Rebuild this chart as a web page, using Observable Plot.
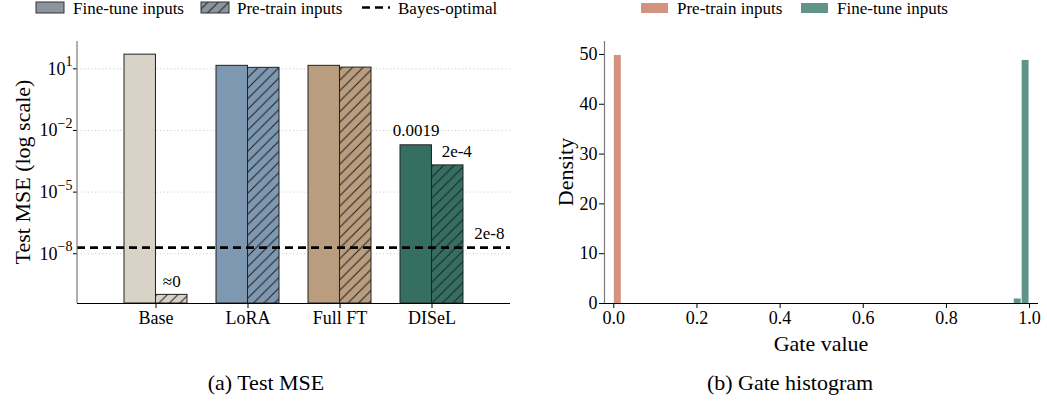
<!DOCTYPE html>
<html>
<head>
<meta charset="utf-8">
<script src="https://cdn.jsdelivr.net/npm/d3@7"></script>
<script src="https://cdn.jsdelivr.net/npm/@observablehq/plot@0.6"></script>
<style>
  body { margin: 0; background: #fff; }
  #fig { position: relative; width: 1047px; height: 404px; overflow: hidden;
         font-family: "Liberation Serif", "Times New Roman", serif; color: #000; background: #fff; }
  #fig svg text, #fig svg tspan { font-family: "Liberation Serif", "Times New Roman", serif; }
  .panel { position: absolute; top: 0; }
  .cap { position: absolute; top: 372px; font-size: 22px; line-height: 22px;
         transform: translateX(-50%); white-space: nowrap; }
  #legend { position: absolute; left: 0; top: 0; }
</style>
</head>
<body>
<div id="fig">
  <svg id="legend" width="1047" height="24"></svg>
  <div id="left" class="panel" style="left:0"></div>
  <div id="right" class="panel" style="left:520px"></div>
  <div class="cap" style="left:266px">(a) Test MSE</div>
  <div class="cap" style="left:790px">(b) Gate histogram</div>
</div>
<script>
// ---- Panel (a): test MSE per method, log scale ----
const methods = ["Base", "LoRA", "Full FT", "DISeL"];
const fineTuneMSE = [49, 14, 14, 0.0019];
const preTrainMSE = [1e-10, 11.2, 11.5, 2e-4];
const fineTuneLabels = [null, null, null, "0.0019"];
const preTrainLabels = ["≈0", null, null, "2e-4"];
const methodColors = ["#d9d2c6", "#7f98b1", "#b99d7e", "#356f64"];
const bayesMSE = 2e-8;
const bayesLabel = "2e-8";
const mseTicks = [1e1, 1e-2, 1e-5, 1e-8];
const mseDomain = [3.8e-11, 214];

// ---- Panel (b): gate value histogram (density) ----
const preTrainEdges = [0.0, 0.0192];
const preTrainDensity = [49.8];
const fineTuneEdges = [0.962, 0.981, 1.0];
const fineTuneDensity = [0.9, 48.8];
const gateTicks = [0, 0.2, 0.4, 0.6, 0.8, 1.0];
const densityTicks = [0, 10, 20, 30, 40, 50];
const gateDomain = [-0.0224, 1.0215];
const densityDomain = [0, 52.6];

const preColor = "#d4937e";
const ftColor = "#629389";
const legendGray = "#8c959d";
const hatchInk = "#1e1e1e";
const spineGray = "#7a7a7a";
const serif = "Liberation Serif, Times New Roman, serif";

const baseStyle = {fontFamily: serif, fontSize: "18px", background: "transparent", color: "#000", overflow: "visible"};

// hatch pattern "//" on top of a base colour
function addHatch(defs, id, color) {
  const s = 10.5;
  const p = defs.append("pattern").attr("id", id).attr("patternUnits", "userSpaceOnUse")
    .attr("width", s).attr("height", s);
  p.append("rect").attr("width", s).attr("height", s).attr("fill", color);
  p.append("path")
    .attr("d", `M0,${s} L${s},0 M${-s / 4},${s / 4} L${s / 4},${-s / 4} M${s * 3 / 4},${s * 5 / 4} L${s * 5 / 4},${s * 3 / 4}`)
    .attr("stroke", hatchInk).attr("stroke-width", 1).attr("fill", "none");
}

// ---------- left chart ----------
const L = {width: 525, height: 360, marginTop: 41, marginBottom: 57, marginLeft: 77, marginRight: 15};
const xBand = {domain: methods, paddingInner: 0.32, paddingOuter: 0.495};
let bw;
try {
  bw = Plot.scale({x: {type: "band", ...xBand, range: [L.marginLeft, L.width - L.marginRight]}}).bandwidth;
} catch (e) { bw = undefined; }
if (!bw) {
  const step = (L.width - L.marginRight - L.marginLeft) / (methods.length - xBand.paddingInner + 2 * xBand.paddingOuter);
  bw = step * (1 - xBand.paddingInner);
}
const half = bw / 2;

const rows = methods.map((m, i) => ({
  method: m, ft: fineTuneMSE[i], pt: preTrainMSE[i],
  color: methodColors[i], hatch: `url(#hatch-${i})`,
  ftLabel: fineTuneLabels[i], ptLabel: preTrainLabels[i]
}));

const left = Plot.plot({
  ...L,
  style: baseStyle,
  x: {...xBand, label: null, tickSize: 5, tickPadding: 3},
  y: {type: "log", domain: mseDomain, ticks: mseTicks, label: null, tickSize: 4, tickPadding: 1,
      tickFormat: d => "10^" + Math.round(Math.log10(d))},
  color: {type: "identity"},
  marks: [
    Plot.ruleY(mseTicks, {stroke: "#c4c4c4", strokeWidth: 0.8, strokeDasharray: "1.2,2.4"}),
    Plot.barY(rows, {x: "method", y1: mseDomain[0], y2: "ft", fill: "color", insetRight: half, stroke: "#222", strokeWidth: 1}),
    Plot.barY(rows, {x: "method", y1: mseDomain[0], y2: "pt", fill: "hatch", insetLeft: half, stroke: "#222", strokeWidth: 1}),
    Plot.ruleY([bayesMSE], {stroke: "#000", strokeWidth: 2.6, strokeDasharray: "8,5"}),
    Plot.ruleY([mseDomain[0]], {stroke: "#000", strokeWidth: 1}),
    Plot.text(rows.filter(d => d.ftLabel), {x: "method", y: "ft", text: "ftLabel", dx: -half / 2, dy: -9,
      lineAnchor: "bottom", fontSize: 17, fontFamily: serif}),
    Plot.text(rows.filter(d => d.ptLabel && d.method === "Base"), {x: "method", y: "pt", text: "ptLabel", dx: half / 2, dy: -8,
      lineAnchor: "bottom", fontSize: 17, fontFamily: serif}),
    Plot.text(rows.filter(d => d.ptLabel && d.method !== "Base"), {x: "method", y: "pt", text: "ptLabel", dx: half / 2 + 9, dy: -8,
      lineAnchor: "bottom", fontSize: 17, fontFamily: serif}),
    Plot.text([{v: bayesMSE, label: bayesLabel}], {y: "v", text: "label", frameAnchor: "right", textAnchor: "end",
      dx: -6, dy: -9, lineAnchor: "bottom", fontSize: 17, fontFamily: serif})
  ]
});

{
  const svg = d3.select(left);
  const defs = svg.insert("defs", ":first-child");
  methodColors.forEach((c, i) => addHatch(defs, `hatch-${i}`, c));
  // superscript exponents on the log ticks
  svg.selectAll("text").each(function () {
    const m = /^10\^(-?\d+)$/.exec(this.textContent);
    if (m) {
      const t = d3.select(this);
      t.text("10");
      t.append("tspan").attr("dy", "-0.6em").attr("font-size", "14px").text(m[1].replace("-", "\u2212"));
    }
  });
  // left spine
  svg.append("line").attr("x1", L.marginLeft).attr("x2", L.marginLeft)
    .attr("y1", L.marginTop).attr("y2", L.height - L.marginBottom)
    .attr("stroke", spineGray).attr("stroke-width", 1.2);
  svg.append("text").attr("transform", `translate(22,${(L.marginTop + L.height - L.marginBottom) / 2}) rotate(-90)`)
    .attr("text-anchor", "middle").attr("dominant-baseline", "central")
    .attr("font-size", 22).text("Test MSE (log scale)");
}
document.getElementById("left").appendChild(left);

// ---------- right chart ----------
const R = {width: 527, height: 360, marginTop: 41, marginBottom: 57, marginLeft: 84, marginRight: 9};
const preBins = preTrainDensity.map((v, i) => ({x0: preTrainEdges[i], x1: preTrainEdges[i + 1], density: v}));
const ftBins = fineTuneDensity.map((v, i) => ({x0: fineTuneEdges[i], x1: fineTuneEdges[i + 1], density: v}));

const right = Plot.plot({
  ...R,
  style: baseStyle,
  x: {domain: gateDomain, ticks: gateTicks, tickFormat: ".1f", label: null, tickSize: 5, tickPadding: 3},
  y: {domain: densityDomain, ticks: densityTicks, label: null, tickSize: 5, tickPadding: 2},
  marks: [
    Plot.rect(preBins, {x1: "x0", x2: "x1", y1: 0, y2: "density", fill: preColor, insetLeft: 0.5, insetRight: 0.5}),
    Plot.rect(ftBins, {x1: "x0", x2: "x1", y1: 0, y2: "density", fill: ftColor, insetLeft: 0.5, insetRight: 0.5}),
    Plot.ruleY([0], {stroke: "#000", strokeWidth: 1}),
    Plot.ruleX([gateDomain[0]], {stroke: spineGray, strokeWidth: 1.2})
  ]
});
{
  const svg = d3.select(right);
  svg.append("text").attr("transform", `translate(45,${(R.marginTop + R.height - R.marginBottom) / 2}) rotate(-90)`)
    .attr("text-anchor", "middle").attr("dominant-baseline", "central")
    .attr("font-size", 22).text("Density");
  svg.append("text").attr("x", (R.marginLeft + R.width - R.marginRight) / 2).attr("y", 343)
    .attr("text-anchor", "middle").attr("dominant-baseline", "central")
    .attr("font-size", 22).text("Gate value");
}
document.getElementById("right").appendChild(right);

// ---------- legends ----------
{
  const lg = d3.select("#legend").style("font-family", serif).style("font-size", "17px");
  const defs = lg.append("defs");
  addHatch(defs, "hatch-legend", legendGray);
  const cy = 8.5;
  lg.append("rect").attr("x", 36).attr("y", 2).attr("width", 28).attr("height", 11)
    .attr("fill", legendGray).attr("stroke", "#333").attr("stroke-width", 1);
  lg.append("text").attr("x", 73).attr("y", cy).attr("dominant-baseline", "central").text("Fine-tune inputs");
  lg.append("rect").attr("x", 201).attr("y", 2).attr("width", 28).attr("height", 11)
    .attr("fill", "url(#hatch-legend)").attr("stroke", "#333").attr("stroke-width", 1);
  lg.append("text").attr("x", 237).attr("y", cy).attr("dominant-baseline", "central").text("Pre-train inputs");
  lg.append("line").attr("x1", 362).attr("x2", 390).attr("y1", 7.5).attr("y2", 7.5)
    .attr("stroke", "#000").attr("stroke-width", 2.6).attr("stroke-dasharray", "8,5");
  lg.append("text").attr("x", 398).attr("y", cy).attr("dominant-baseline", "central").text("Bayes-optimal");

  lg.append("rect").attr("x", 641).attr("y", 3).attr("width", 27).attr("height", 10).attr("fill", preColor);
  lg.append("text").attr("x", 677).attr("y", cy).attr("dominant-baseline", "central").text("Pre-train inputs");
  lg.append("rect").attr("x", 801).attr("y", 3).attr("width", 27).attr("height", 10).attr("fill", ftColor);
  lg.append("text").attr("x", 837).attr("y", cy).attr("dominant-baseline", "central").text("Fine-tune inputs");
}
</script>
</body>
</html>
